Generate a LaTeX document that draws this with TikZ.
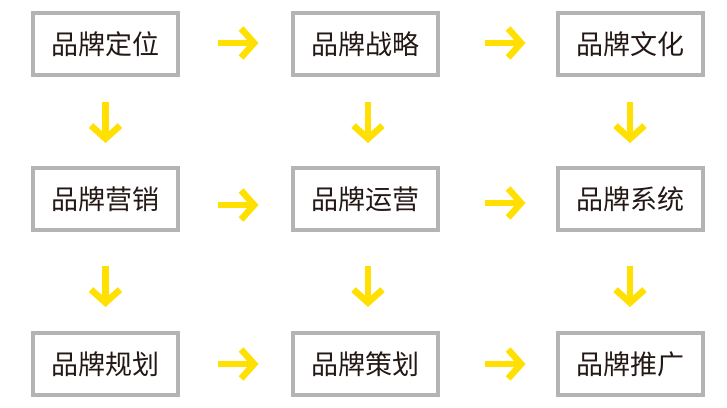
\documentclass[tikz,border=0pt]{standalone}
\usepackage{fontspec}
\newfontfamily\cjk{Noto Sans CJK SC}
\usetikzlibrary{arrows.meta}
\definecolor{boxgray}{HTML}{B4B4B4}
\definecolor{arrowyellow}{HTML}{FFE000}
\definecolor{txt}{HTML}{231815}
\tikzset{
  brandbox/.style={draw=boxgray, line width=4pt, fill=white, minimum width=145pt, minimum height=62pt, inner sep=0pt,
    font=\cjk\fontsize{27}{32}\selectfont, text=txt},
  arr/.style={draw=arrowyellow, line width=6.5pt, line cap=butt,
    -{Straight Barb[length=13pt, width=29pt, line width=6.5pt, line join=miter]}}
}
\begin{document}
\begin{tikzpicture}[x=1pt,y=-1pt]
\useasboundingbox (0,0) rectangle (727,407);
\node[brandbox] (b1) at (105.5,44) {品牌定位};
\node[brandbox] (b2) at (365,44) {品牌战略};
\node[brandbox] (b3) at (630,44) {品牌文化};
\node[brandbox] (b4) at (105.5,199) {品牌营销};
\node[brandbox] (b5) at (365,199) {品牌运营};
\node[brandbox] (b6) at (630,199) {品牌系统};
\node[brandbox] (b7) at (105.5,364) {品牌规划};
\node[brandbox] (b8) at (365,364) {品牌策划};
\node[brandbox] (b9) at (630,364) {品牌推广};
% horizontal arrows
\draw[arr, shorten <=38pt, shorten >=32pt] ([yshift=1pt]b1.east) -- ([yshift=1pt]b2.west);
\draw[arr, shorten <=45pt, shorten >=30pt] ([yshift=1pt]b2.east) -- ([yshift=1pt]b3.west);
\draw[arr, shorten <=38pt, shorten >=32pt] ([yshift=-6pt]b4.east) -- ([yshift=-6pt]b5.west);
\draw[arr, shorten <=45pt, shorten >=30pt] ([yshift=-4pt]b5.east) -- ([yshift=-4pt]b6.west);
\draw[arr, shorten <=38pt, shorten >=32pt] (b7.east) -- (b8.west);
\draw[arr, shorten <=45pt, shorten >=30pt] (b8.east) -- (b9.west);
% vertical arrows
\draw[arr, shorten <=25pt, shorten >=23pt] (b1.south) -- (b4.north);
\draw[arr, shorten <=25pt, shorten >=23pt] ([xshift=3pt]b2.south) -- ([xshift=3pt]b5.north);
\draw[arr, shorten <=25pt, shorten >=23pt] (b3.south) -- (b6.north);
\draw[arr, shorten <=34pt, shorten >=24pt] (b4.south) -- (b7.north);
\draw[arr, shorten <=34pt, shorten >=24pt] ([xshift=3pt]b5.south) -- ([xshift=3pt]b8.north);
\draw[arr, shorten <=34pt, shorten >=24pt] (b6.south) -- (b9.north);
\end{tikzpicture}
\end{document}
